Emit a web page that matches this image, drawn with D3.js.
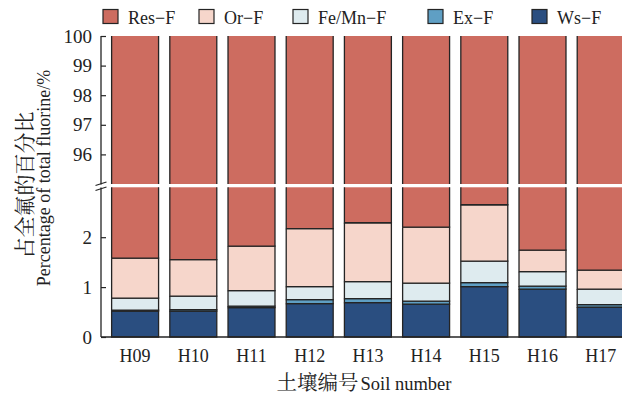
<!DOCTYPE html>
<html>
<head>
<meta charset="utf-8">
<script src="https://cdn.jsdelivr.net/npm/d3@7"></script>
<style>
  html, body { margin: 0; padding: 0; background: #fff; }
</style>
</head>
<body>
<svg id="chart" width="622" height="398"></svg>
<script>
// Soil samples
const soils = ["H09", "H10", "H11", "H12", "H13", "H14", "H15", "H16", "H17"];

// Fluorine fractions, % of total fluorine (stack order bottom to top)
const wsF   = [0.52, 0.52, 0.59, 0.67, 0.69, 0.66, 1.01, 0.96, 0.60];
const exF   = [0.02, 0.03, 0.03, 0.08, 0.08, 0.06, 0.08, 0.06, 0.05];
const feMnF = [0.24, 0.27, 0.31, 0.26, 0.34, 0.36, 0.43, 0.29, 0.31];
const orF   = [0.80, 0.73, 0.89, 1.16, 1.18, 1.12, 1.13, 0.43, 0.38];
const resF  = [98.42, 98.45, 98.18, 97.83, 97.71, 97.80, 97.35, 98.26, 98.66];

const fractionNames  = ["Ws−F", "Ex−F", "Fe/Mn−F", "Or−F", "Res−F"];
const fractionColors = ["#2a4e80", "#5f9fc4", "#deebef", "#f6d6cb", "#cd6c60"];
const legendOrder    = [4, 3, 2, 1, 0];

const lowTicks  = [0, 1, 2];
const highTicks = [96, 97, 98, 99, 100];

const LATIN = "'Liberation Serif', 'Times New Roman', Times, serif";
const CJK = "'Noto Serif CJK SC', 'Noto Sans CJK SC', serif";

const rows = soils.map((s, i) => ({
  soil: s,
  "Ws−F": wsF[i], "Ex−F": exF[i], "Fe/Mn−F": feMnF[i], "Or−F": orF[i], "Res−F": resF[i]
}));
const series = d3.stack().keys(fractionNames)(rows);

const svg = d3.select("#chart");
const axisX = 101;

const x = d3.scaleBand().domain(soils).range([106, 629.8])
  .paddingInner(0.193).paddingOuter(0.0965);

// Broken value axis: lower panel 0–3, upper panel 95–100
const yLow  = d3.scaleLinear().domain([0, 3]).range([337, 187.3]);
const yHigh = d3.scaleLinear().domain([95, 100]).range([184, 36]);

const panels = [
  { y: yLow,  lo: 0,  hi: 3 },
  { y: yHigh, lo: 95, hi: 100 }
];

const stroke = "#242424";

panels.forEach(p => {
  const g = svg.append("g");
  series.forEach((ser, k) => {
    ser.forEach((d, i) => {
      const a = Math.max(d[0], p.lo), b = Math.min(d[1], p.hi);
      if (b <= a) return;
      const x0 = x(soils[i]), w = x.bandwidth();
      const yTop = p.y(b), yBot = p.y(a);
      g.append("rect")
        .attr("x", x0).attr("y", yTop)
        .attr("width", w).attr("height", yBot - yTop)
        .attr("fill", fractionColors[k]);
      // outline; edges cut by the axis break or the 100 % top stay open
      const topOpen = b === p.hi;
      const botOpen = a === p.lo && p.lo !== 0;
      let path = `M${x0},${yTop}V${yBot}`;
      path += botOpen ? `M${x0 + w},${yBot}` : `H${x0 + w}`;
      path += `V${yTop}`;
      if (!topOpen) path += `H${x0}`;
      g.append("path").attr("d", path)
        .attr("fill", "none").attr("stroke", stroke).attr("stroke-width", 1.3);
    });
  });
});

// Value axes (ticks point inward)
const yAxisLow = d3.axisLeft(yLow).tickValues(lowTicks).tickSize(-5).tickPadding(9).tickFormat(d3.format("d"));
const yAxisHigh = d3.axisLeft(yHigh).tickValues(highTicks).tickSize(-5).tickPadding(9).tickFormat(d3.format("d"));

function styleAxis(g) {
  g.attr("font-family", null).attr("font-size", null);
  g.selectAll("path.domain").remove();
  g.selectAll(".tick line").attr("stroke", stroke).attr("stroke-width", 1.2);
  g.selectAll(".tick text")
    .style("font-family", LATIN).style("font-size", "19px").attr("fill", "#222");
}
svg.append("g").attr("transform", `translate(${axisX},0)`).call(yAxisLow).call(styleAxis);
svg.append("g").attr("transform", `translate(${axisX},0)`).call(yAxisHigh).call(styleAxis);

// Axis spines with break marks
svg.append("line").attr("x1", axisX).attr("x2", axisX).attr("y1", 36).attr("y2", 184.5)
  .attr("stroke", stroke).attr("stroke-width", 1.3);
svg.append("line").attr("x1", axisX).attr("x2", axisX).attr("y1", 187.5).attr("y2", 337)
  .attr("stroke", stroke).attr("stroke-width", 1.3);
[0, 5].forEach(off => {
  svg.append("line")
    .attr("x1", 95.5).attr("y1", 185.5 + off)
    .attr("x2", 106.5).attr("y2", 182 + off)
    .attr("stroke", stroke).attr("stroke-width", 1.2);
});

// Category axis
const xAxis = d3.axisBottom(x).tickSize(0).tickPadding(12);
const gx = svg.append("g").attr("transform", "translate(0,337)").call(xAxis);
gx.attr("font-family", null).attr("font-size", null);
gx.select("path.domain").remove();
gx.selectAll(".tick text")
  .style("font-family", LATIN).style("font-size", "18px").attr("fill", "#222");
svg.append("line").attr("x1", axisX).attr("x2", 622).attr("y1", 337).attr("y2", 337)
  .attr("stroke", stroke).attr("stroke-width", 1.3);

// Axis titles (Chinese part set larger than the Latin part)
const xTitle = svg.append("text").attr("x", 364).attr("y", 390).attr("text-anchor", "middle")
  .attr("fill", "#222");
xTitle.append("tspan").style("font-family", CJK).style("font-size", "20.5px").text("土壤编号");
xTitle.append("tspan").style("font-family", LATIN).style("font-size", "18.5px").attr("dx", 2).text("Soil number");

svg.append("text")
  .attr("transform", "translate(32,185) rotate(-90)")
  .attr("text-anchor", "middle").attr("fill", "#222")
  .style("font-family", CJK).style("font-size", "21px")
  .text("占全氟的百分比");
svg.append("text")
  .attr("transform", "translate(50,178) rotate(-90)")
  .attr("text-anchor", "middle").attr("fill", "#222")
  .style("font-family", LATIN).style("font-size", "18px")
  .text("Percentage of total fluorine/%");

// Legend
const legendX = [103, 199, 293, 428, 532];
const legend = svg.append("g");
legendOrder.forEach((k, j) => {
  const lx = legendX[j];
  legend.append("rect").attr("x", lx).attr("y", 9.5).attr("width", 15).attr("height", 14)
    .attr("fill", fractionColors[k]).attr("stroke", stroke).attr("stroke-width", 1.2);
  legend.append("text").attr("x", lx + 25).attr("y", 23.5).attr("fill", "#222")
    .style("font-family", LATIN).style("font-size", "18px").text(fractionNames[k]);
});
</script>
</body>
</html>
